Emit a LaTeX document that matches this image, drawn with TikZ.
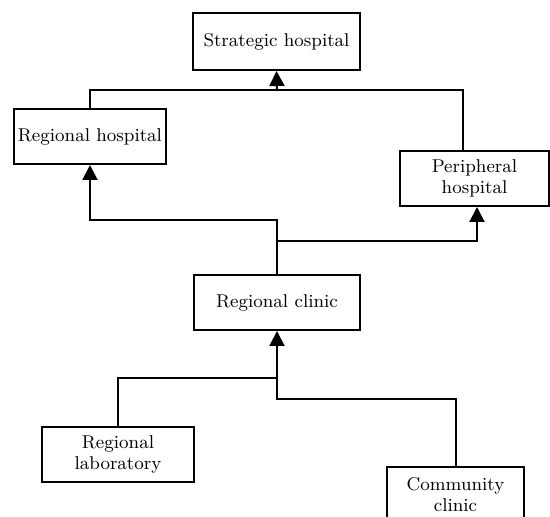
\documentclass[tikz,border=0pt]{standalone}
\usepackage{tikz}
\usetikzlibrary{arrows.meta}

\begin{document}
\begin{tikzpicture}[x=0.5pt, y=-0.5pt,
    unit/.style={draw, line width=1pt, fill=white, inner sep=0pt, align=center,
      font=\fontsize{9.25}{10.5}\selectfont, minimum height=27.5pt},
    link/.style={line width=1pt},
    arr/.style={link, -{Triangle[length=7.5pt, width=7.5pt]}}]
  \useasboundingbox (0,0) rectangle (550,517);
  % Hospitals
  \node[unit, minimum width=83.5pt, minimum height=28.5pt] (strat) at (276.5,41.5) {Strategic hospital};
  \node[unit, minimum width=76pt] (reghosp) at (90,136.5) {Regional hospital};
  \node[unit, minimum width=74.5pt] (periph) at (474.5,178.5) {Peripheral\\hospital};
  % Clinic level
  \node[unit, minimum width=83pt] (clinic) at (277,302.5) {Regional clinic};
  \node[unit, minimum width=76pt] (lab) at (118,454.5) {Regional\\laboratory};
  \node[unit, minimum width=68.5pt] (comm) at (455.5,494.5) {Community\\clinic};
  % Junctions
  \coordinate (top) at (277,90);
  \coordinate (pin) at (463,151);
  \coordinate (mid) at (277,220);
  \coordinate (fork) at (277,241);
  \coordinate (low) at (277,378);
  \coordinate (drop) at (277,399);
  % Up to the strategic hospital
  \draw[link] (reghosp.north) |- (top) -| (pin);
  \draw[arr] (top) -- (strat.south);
  % Regional clinic up to the hospitals
  \draw[arr] (clinic.north) -- (mid) -| (reghosp.south);
  \draw[arr] (fork) -| ([xshift=1.25pt]periph.south);
  % Lab and community clinic up to the regional clinic
  \draw[arr] (lab.north) |- (low) -- (clinic.south);
  \draw[link] (comm.north) |- (drop) -- (low);
\end{tikzpicture}
\end{document}
